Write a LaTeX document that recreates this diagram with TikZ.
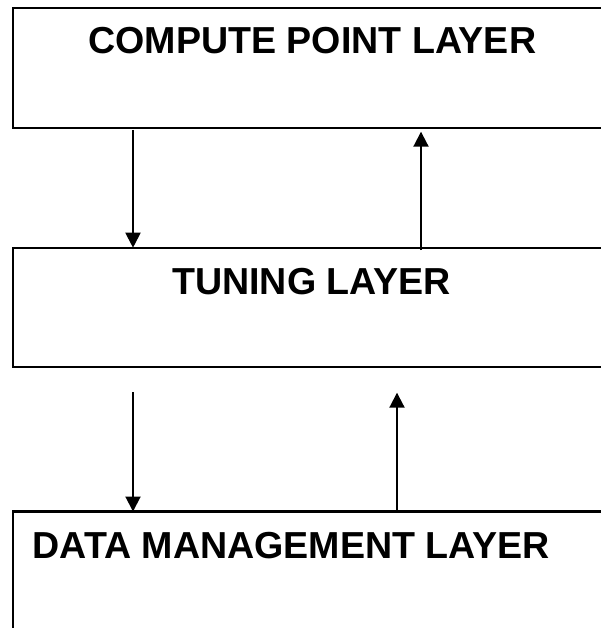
\documentclass[tikz,border=0pt]{standalone}
\usepackage{fontspec}
\setmainfont{Liberation Sans}
\usetikzlibrary{arrows.meta}
\begin{document}
\begin{tikzpicture}[x=1pt,y=-1pt,
  layerbox/.style={draw, line width=2.2pt, rectangle, minimum width=600pt,
    minimum height=#1, inner sep=0pt, outer sep=0pt, anchor=north west},
  lbl/.style={font=\fontsize{37.6}{44}\selectfont\bfseries, inner sep=0pt,
    anchor=base west},
  arr/.style={line width=2pt, -{Triangle[width=15pt,length=15pt]}}]
\useasboundingbox (0,0) rectangle (601,628);
\clip (0,0) rectangle (601,628);

% the three layers, each running past the right edge
\node[layerbox=119.7pt] (compute) at (12.7,8) {};
\node[layerbox=119.6pt] (tuning)  at (12.7,247.7) {};
\node[layerbox=160pt]   (data)    at (12.7,511.5) {};

% layer titles
\node[lbl] (computelbl) at (88.2,54)  {COMPUTE POINT LAYER};
\node[lbl] (tuninglbl)  at (172,294) {TUNING LAYER};
\node[lbl] (datalbl)    at (32.3,558) {DATA MANAGEMENT LAYER};

% compute <-> tuning
\draw[arr] ([shift={(120.3,2.3)}]compute.south west) -- ([shift={(120.3,0)}]tuning.north west);
\draw[arr] ([shift={(408.3,2.3)}]tuning.north west) -- ([shift={(408.3,4)}]compute.south west);

% tuning <-> data
\draw[arr] ([shift={(120.3,24.7)}]tuning.south west) -- ([shift={(120.3,0)}]data.north west);
\draw[arr] ([shift={(384.3,0)}]data.north west) -- ([shift={(384.3,25.4)}]tuning.south west);
\end{tikzpicture}
\end{document}
